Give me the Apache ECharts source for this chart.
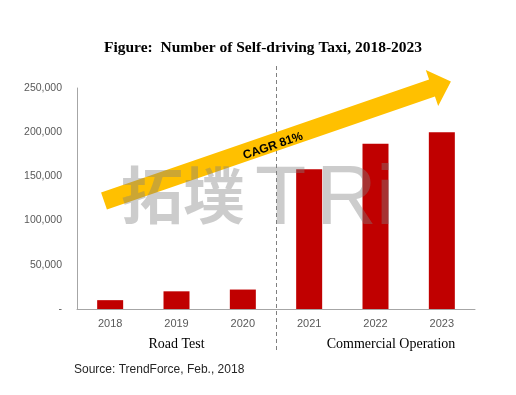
<!DOCTYPE html>
<html><head><meta charset="utf-8">
<script src="https://cdn.jsdelivr.net/npm/echarts@6/dist/echarts.min.js"></script>
<style>html,body{margin:0;padding:0;background:#fff}#c{width:516px;height:395px}</style>
</head><body><div id="c"></div>
<script>
const categories = ['2018','2019','2020','2021','2022','2023'];
const taxiCounts = [10000, 20000, 22000, 158000, 187000, 200000];
const yTicks = [0, 50000, 100000, 150000, 200000, 250000];
const phaseLabels = ['Road Test', 'Commercial Operation'];
const cagrLabel = 'CAGR 81%';
const titleText = 'Figure:  Number of Self-driving Taxi, 2018-2023';
const sourceText = 'Source: TrendForce, Feb., 2018';
const watermarkCn = '拓墣';
const watermarkEn = ['T', 'R', 'i'];

const chart = echarts.init(document.getElementById('c'), null, {renderer: 'canvas'});
const option = {
  animation: false,
  backgroundColor: '#fff',
  grid: {left: 77, right: 41, top: 88, bottom: 86},
  xAxis: {
    type: 'category', data: categories,
    axisLine: {lineStyle: {color: '#a6a6a6', width: 1}},
    axisTick: {show: false},
    axisLabel: {color: '#595959', fontFamily: 'Liberation Sans', fontSize: 11, margin: 9}
  },
  yAxis: {
    type: 'value', min: yTicks[0], max: yTicks[yTicks.length - 1], interval: yTicks[1] - yTicks[0],
    axisLine: {show: true, lineStyle: {color: '#a6a6a6', width: 1}},
    axisTick: {show: false},
    splitLine: {show: false},
    axisLabel: {
      color: '#595959', fontFamily: 'Liberation Sans', fontSize: 10.5, margin: 15,
      formatter: v => v === 0 ? '-' : v.toLocaleString('en-US')
    }
  },
  series: [{
    type: 'bar', data: taxiCounts, barWidth: 26,
    itemStyle: {color: '#C00000'}, z: 2
  }]
};
chart.setOption(option);

// positions derived from the axes
const p2020 = chart.convertToPixel({xAxisIndex: 0}, '2020');
const p2021 = chart.convertToPixel({xAxisIndex: 0}, '2021');
const p2019 = chart.convertToPixel({xAxisIndex: 0}, '2019');
const divX = Math.round((p2020 + p2021) / 2) + 0.5;

// arrow geometry
const S = [104, 201], B = [432, 88];
const dx = B[0] - S[0], dy = B[1] - S[1], len = Math.hypot(dx, dy);
const u = [dx / len, dy / len], n = [-u[1], u[0]];
const w = 9, h = 19, L = 20;
const pt = (p, a, v) => [p[0] + a * v[0], p[1] + a * v[1]];
const T = pt(B, L, u);
const arrowPts = [pt(S, -w, n), pt(B, -w, n), pt(B, -h, n), T, pt(B, h, n), pt(B, w, n), pt(S, w, n)];
const ang = Math.atan2(-dy, dx);

const wmFill = 'rgba(128,128,128,0.4)';
const enX = [255, 316, 376];

chart.setOption({
  graphic: [
    {type: 'text', x: 263, y: 48, z: 6,
     style: {text: titleText, fill: '#000', font: 'bold 15.5px "Liberation Serif"', align: 'center', verticalAlign: 'middle'}},
    {type: 'line', shape: {x1: divX, y1: 66, x2: divX, y2: 352}, silent: true,
     style: {stroke: '#7f7f7f', lineWidth: 1, lineDash: [4, 3]}, z: 1},
    {type: 'polygon', shape: {points: arrowPts}, style: {fill: '#FFC000'}, z: 5},
    {type: 'text', x: 273, y: 146, rotation: ang, z: 6,
     style: {text: cagrLabel, fill: '#000', font: 'bold 12px "Liberation Sans"', align: 'center', verticalAlign: 'middle'}},
    {type: 'text', x: 121, y: 195, z: 7,
     style: {text: watermarkCn, fill: wmFill, font: 'bold 62px "Noto Sans CJK SC"', align: 'left', verticalAlign: 'middle'}}
  ].concat(watermarkEn.map((ch, i) => ({
    type: 'text', x: enX[i], y: 201, z: 7,
    style: {text: ch, fill: wmFill, font: '84px "Liberation Sans"', align: 'left', verticalAlign: 'middle'}
  }))).concat([
    {type: 'text', x: p2019, y: 344, z: 6,
     style: {text: phaseLabels[0], fill: '#000', font: '14px "Liberation Serif"', align: 'center', verticalAlign: 'middle'}},
    {type: 'text', x: 391, y: 344, z: 6,
     style: {text: phaseLabels[1], fill: '#000', font: '14px "Liberation Serif"', align: 'center', verticalAlign: 'middle'}},
    {type: 'text', x: 74, y: 370, z: 6,
     style: {text: sourceText, fill: '#262626', font: '12px "Liberation Sans"', align: 'left', verticalAlign: 'middle'}}
  ])
});
</script></body></html>
